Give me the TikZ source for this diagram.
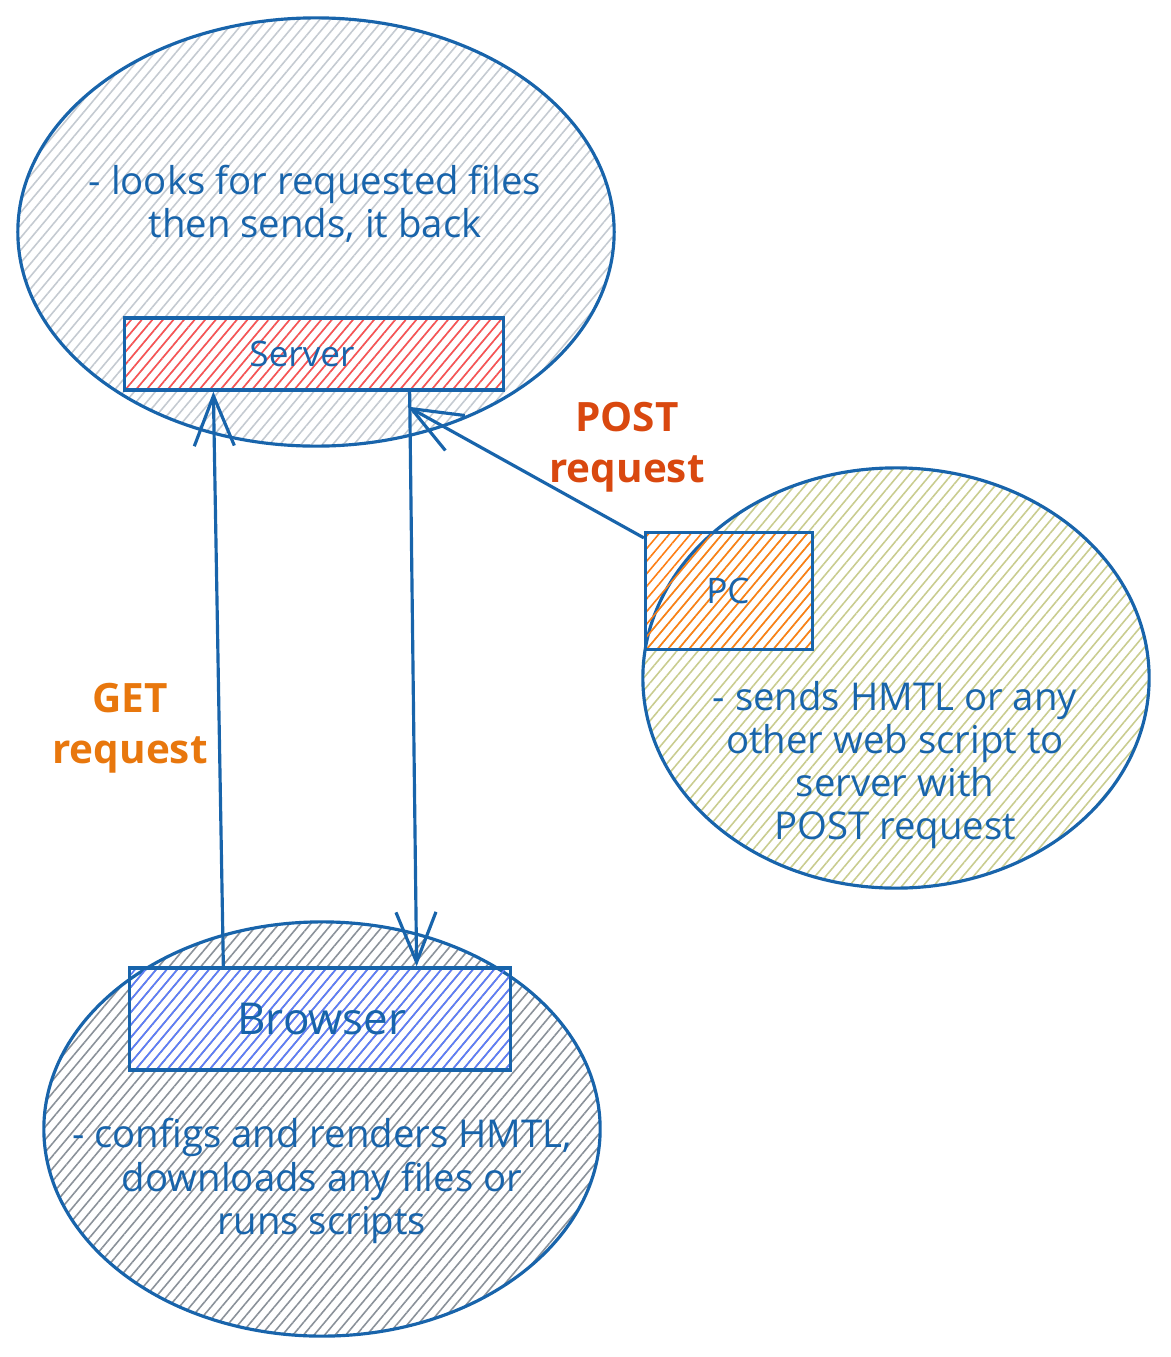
\documentclass[tikz,border=0pt]{standalone}
\usepackage{fontspec}
\setmainfont{Open Sans}
\usetikzlibrary{shapes.geometric,patterns.meta,arrows.meta}

\definecolor{inkblue}{HTML}{1864AB}
\definecolor{hgray}{HTML}{C4CAD1}
\definecolor{hdark}{HTML}{8A9199}
\definecolor{hred}{HTML}{FA5252}
\definecolor{hblue}{HTML}{5C7CFA}
\definecolor{horange}{HTML}{FD7E14}
\definecolor{holive}{HTML}{C9CC8F}
\definecolor{getcol}{HTML}{E8770D}
\definecolor{postcol}{HTML}{D9480F}

\tikzset{
  hatch/.style={pattern={Lines[angle=50,distance=2.3pt,line width=0.45pt]},pattern color=#1},
  cloud/.style={ellipse,draw=inkblue,line width=0.9pt,inner sep=0pt},
  box/.style={rectangle,draw=inkblue,line width=0.9pt,inner sep=0pt},
  note/.style={text=inkblue,align=center,font=\fontsize{10.9}{12.3}\selectfont},
  reqlabel/.style={align=center,font=\fontsize{11.5}{14.5}\selectfont\bfseries},
  reqarrow/.style={draw=inkblue,line width=0.9pt,-{Straight Barb[length=5mm,width=4mm,line width=0.9pt]}}
}

\begin{document}
\begin{tikzpicture}[x=0.01cm,y=-0.01cm]
  \useasboundingbox (0,0) rectangle (1171,1357);

  % server side
  \node[cloud,hatch=hgray,minimum width=5.96cm,minimum height=4.28cm] (srvcloud) at (316,232) {};
  \node[box,hatch=hred,minimum width=3.78cm,minimum height=0.72cm] (server) at (314,354) {};
  \node[note,font=\fontsize{10}{12}\selectfont] (srvname) at (302,354) {Server};
  \node[note] (srvnote) at (315,204) {- looks for requested files\\then sends, it back};

  % pc side
  \node[cloud,hatch=holive,minimum width=5.06cm,minimum height=4.2cm] (pccloud) at (896,678) {};
  \node[box,hatch=horange,minimum width=1.67cm,minimum height=1.17cm] (pc) at (729,591) {};
  \node[note,font=\fontsize{10}{12}\selectfont] (pcname) at (728,591) {PC};
  \node[note] (pcnote) at (895,765) {- sends HMTL or any\\other web script to\\server with\\POST request};

  % browser side
  \node[cloud,hatch=hdark,minimum width=5.56cm,minimum height=4.14cm] (brcloud) at (322,1129) {};
  \node[box,hatch=hblue,minimum width=3.8cm,minimum height=1.02cm] (browser) at (320,1019) {};
  \node[note,font=\fontsize{12.5}{14}\selectfont] (brname) at (322,1019) {Browser};
  \node[note] (brnote) at (322,1181) {- configs and renders HMTL,\\downloads any files or\\runs scripts};

  % requests
  \draw[reqarrow] ([xshift=0.95cm]browser.north west) -- ([xshift=0.9cm]server.south west);
  \draw[reqarrow] ([xshift=-0.95cm]server.south east) -- ([xshift=-0.95cm]browser.north east);
  \draw[reqarrow] ([yshift=-0.07cm]pc.north west) -- ([xshift=-0.97cm,yshift=-0.15cm]server.south east);

  \node[reqlabel,text=getcol] (getlbl) at (130,728) {GET\\request};
  \node[reqlabel,text=postcol] (postlbl) at (627,447) {POST\\request};
\end{tikzpicture}
\end{document}
